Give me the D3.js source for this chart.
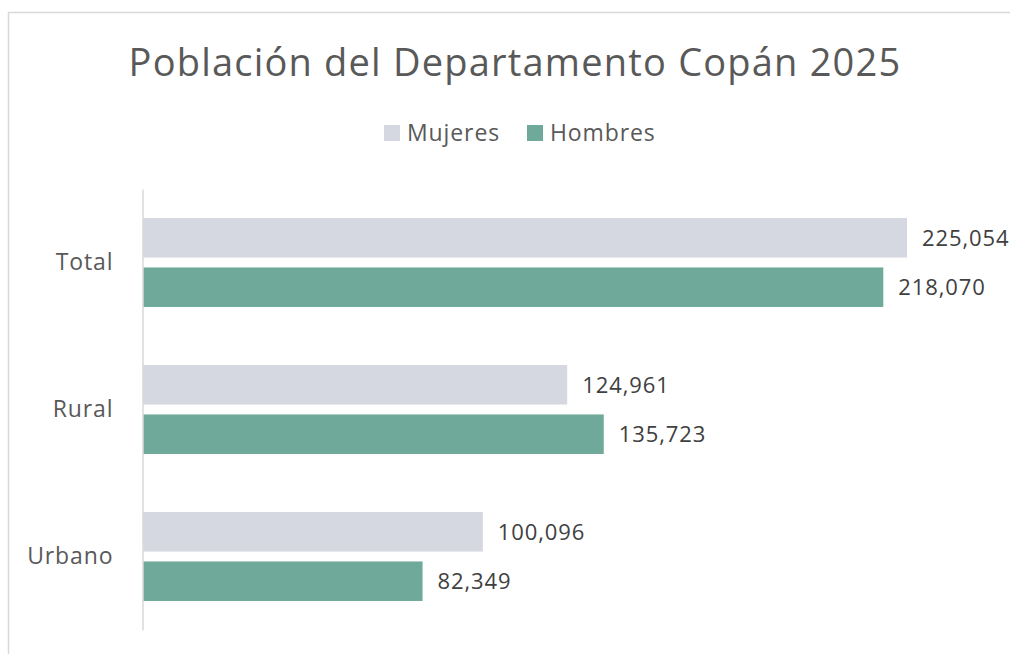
<!DOCTYPE html>
<html>
<head>
<meta charset="utf-8">
<script src="https://cdn.jsdelivr.net/npm/d3@7"></script>
<style>
  body { margin: 0; background: #fff; }
  svg { display: block; font-family: "Open Sans", sans-serif; }
</style>
</head>
<body>
<svg id="chart" width="1010" height="654"></svg>
<script>
// data
const categories = ["Total", "Rural", "Urbano"];
const seriesNames = ["Mujeres", "Hombres"];
const mujeres = [225054, 124961, 100096];
const hombres = [218070, 135723, 82349];
const title = "Población del Departamento Copán 2025";

const colors = {Mujeres: "#d5d8e0", Hombres: "#6fa99a"};
const margin = {top: 189, left: 143, bottom: 24};
const width = 1010, height = 654;

const svg = d3.select("#chart");

// outer chart border (runs off the right and bottom edge)
svg.append("rect")
    .attr("x", 8.5).attr("y", 12.5)
    .attr("width", 1100).attr("height", 700)
    .attr("fill", "none").attr("stroke", "#d9d9d9").attr("stroke-width", 1.5);

svg.append("text")
    .attr("x", 515).attr("y", 76)
    .attr("text-anchor", "middle")
    .attr("fill", "#595959")
    .style("font-size", "38px")
    .style("letter-spacing", "1.2px")
    .text(title);

const rows = categories.map((c, i) => ({cat: c, Mujeres: mujeres[i], Hombres: hombres[i]}));

const x = d3.scaleLinear().domain([0, 250000]).range([margin.left, margin.left + 848.7]);
const y = d3.scaleBand().domain(categories).range([189, 630]).paddingInner(0.395).paddingOuter(0.1975);
const ySub = d3.scaleBand().domain(seriesNames).range([0, y.bandwidth()]).paddingInner(0.2);

// legend
const legend = svg.append("g").attr("transform", "translate(384,125)");
const legX = [0, 143];
seriesNames.forEach((s, i) => {
    const g = legend.append("g").attr("transform", "translate(" + legX[i] + ",0)");
    g.append("rect").attr("width", 16).attr("height", 16).attr("fill", colors[s]);
    g.append("text").attr("x", 23).attr("y", 15.5)
        .attr("fill", "#595959")
        .style("font-size", "23px")
        .style("letter-spacing", "0.9px")
        .text(s);
});

// bars
const groups = svg.append("g").selectAll("g.cat")
    .data(rows).join("g")
    .attr("class", "cat")
    .attr("transform", d => "translate(0," + y(d.cat) + ")");

groups.selectAll("rect")
    .data(d => seriesNames.map(s => ({key: s, value: d[s]})))
    .join("rect")
    .attr("x", x(0))
    .attr("y", d => ySub(d.key))
    .attr("width", d => x(d.value) - x(0))
    .attr("height", ySub.bandwidth())
    .attr("fill", d => colors[d.key]);

groups.selectAll("text.val")
    .data(d => seriesNames.map(s => ({key: s, value: d[s]})))
    .join("text")
    .attr("class", "val")
    .attr("x", d => x(d.value) + 15)
    .attr("y", d => ySub(d.key) + ySub.bandwidth() / 2)
    .attr("dy", "0.36em")
    .attr("fill", "#404040")
    .style("font-size", "22px")
    .style("letter-spacing", "0.9px")
    .text(d => d3.format(",")(d.value));

// category axis
const yAxis = svg.append("g")
    .attr("transform", "translate(" + (margin.left - 0.5) + ",0)")
    .call(d3.axisLeft(y).tickSize(0).tickPadding(29));
yAxis.select(".domain").attr("stroke", "#d9d9d9").attr("stroke-width", 1.5);
yAxis.selectAll("text")
    .attr("fill", "#595959")
    .style("font-size", "23px")
    .style("letter-spacing", "0.9px")
    .style("font-family", "Open Sans, sans-serif");
</script>
</body>
</html>
